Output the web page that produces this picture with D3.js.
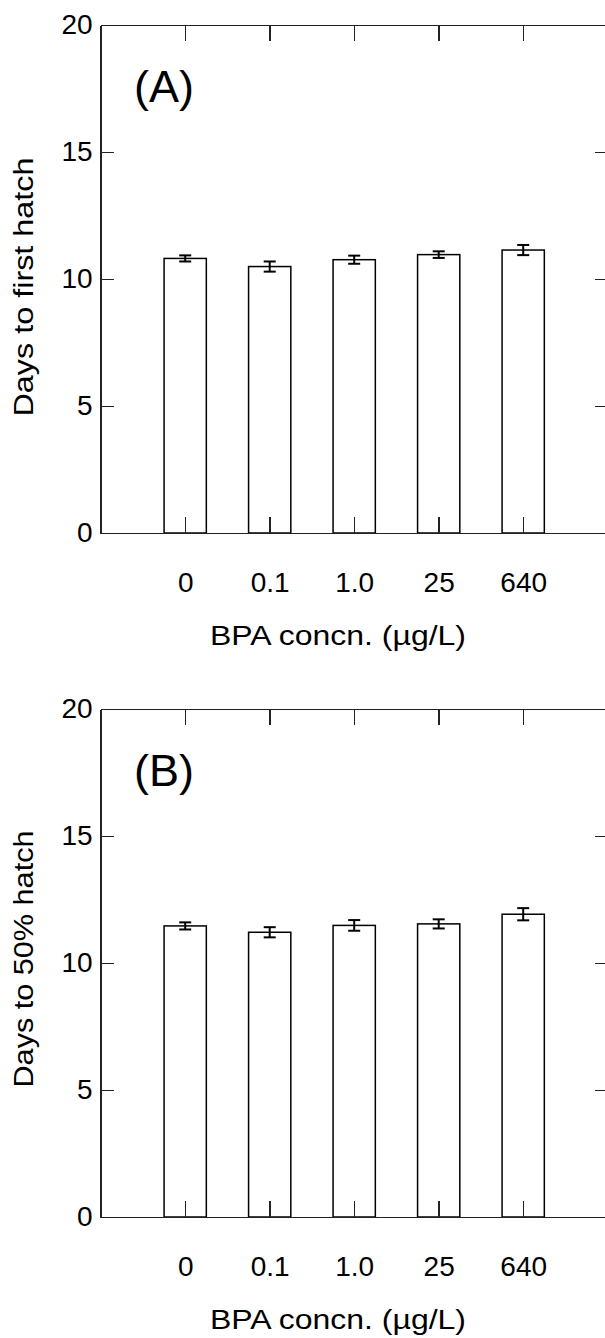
<!DOCTYPE html>
<meta charset="utf-8">
<style type="text/css">

body {
  margin: 0;
  background: #fff;
}

svg {
  font-family: Arial, "Liberation Sans", Helvetica, sans-serif;
}

.axis path,
.axis line {
  stroke: #222;
  stroke-width: 1.5px;
  shape-rendering: crispEdges;
}

.axis text {
  font-size: 28px;
  fill: #000;
}

.bar {
  fill: #fff;
  stroke: #000;
  stroke-width: 1.5px;
}

.err {
  stroke: #000;
  stroke-width: 2px;
}

</style>
<body>
<div id="chart"></div>

<script src="https://d3js.org/d3.v7.min.js"></script>
<script>
var width = 605,
    height = 1338;

// x positions: axis at 0, categories at 1..5, right border at 6
var categories = ['0', '0.1', '1.0', '25', '640'];
var catPos = [1, 2, 3, 4, 5];
var yTicks = [0, 5, 10, 15, 20];

// panel A: days to first hatch
var firstHatch = [10.81, 10.49, 10.76, 10.96, 11.14];
var firstHatchErr = [0.12, 0.20, 0.16, 0.13, 0.20];

// panel B: days to 50% hatch
var halfHatch = [11.46, 11.21, 11.48, 11.54, 11.92];
var halfHatchErr = [0.14, 0.20, 0.21, 0.18, 0.24];

var tags = ['(A)', '(B)'];
var yTitles = ['Days to first hatch', 'Days to 50% hatch'];
var xTitle = 'BPA concn. (\u00b5g/L)';

// layout of the two panels
var panels = [
  { values: firstHatch, errors: firstHatchErr, top: 25, titleMid: 262, titleLen: 259 },
  { values: halfHatch, errors: halfHatchErr, top: 709, titleMid: 250, titleLen: 257 }
];

var plotLeft = 100.7,
    plotRight = 607.7,
    plotH = 508;

var svg = d3.select('#chart').append('svg')
    .attr('width', width)
    .attr('height', height);

var x = d3.scaleLinear().domain([0, 6]).range([plotLeft, plotRight]);
var barW = x(0.5) - x(0);

panels.forEach(function(p, k) {
  var y = d3.scaleLinear().domain([0, 20]).range([p.top + plotH, p.top]);
  var g = svg.append('g');

  // bars
  g.selectAll('rect.bar')
      .data(p.values)
    .enter().append('rect')
      .attr('class', 'bar')
      .attr('x', function(d, i) { return x(catPos[i]) - barW / 2; })
      .attr('y', function(d) { return y(d); })
      .attr('width', barW)
      .attr('height', function(d) { return y(0) - y(d); });

  // error bars
  var capW = 6;
  var eb = g.selectAll('g.eb')
      .data(p.values)
    .enter().append('g');
  eb.append('line')
      .attr('class', 'err')
      .attr('x1', function(d, i) { return x(catPos[i]); })
      .attr('x2', function(d, i) { return x(catPos[i]); })
      .attr('y1', function(d, i) { return y(d + p.errors[i]); })
      .attr('y2', function(d, i) { return y(d - p.errors[i]); });
  [1, -1].forEach(function(s) {
    eb.append('line')
        .attr('class', 'err')
        .attr('x1', function(d, i) { return x(catPos[i]) - capW; })
        .attr('x2', function(d, i) { return x(catPos[i]) + capW; })
        .attr('y1', function(d, i) { return y(d + s * p.errors[i]); })
        .attr('y2', function(d, i) { return y(d + s * p.errors[i]); });
  });

  // axes, ticks pointing inward
  g.append('g')
      .attr('class', 'axis')
      .attr('transform', 'translate(' + plotLeft + ',0)')
      .call(d3.axisLeft(y).tickValues(yTicks).tickSizeInner(-13).tickSizeOuter(0).tickPadding(8));

  g.append('g')
      .attr('class', 'axis')
      .attr('transform', 'translate(' + plotRight + ',0)')
      .call(d3.axisRight(y).tickValues(yTicks.slice(1, 4)).tickSizeInner(-13).tickSizeOuter(0).tickFormat(''));

  g.append('g')
      .attr('class', 'axis')
      .attr('transform', 'translate(0,' + p.top + ')')
      .call(d3.axisTop(x).tickValues(catPos).tickSizeInner(-16).tickSizeOuter(0).tickFormat(''));

  g.append('g')
      .attr('class', 'axis')
      .attr('transform', 'translate(0,' + (p.top + plotH) + ')')
      .call(d3.axisBottom(x).tickValues(catPos).tickSizeInner(-16).tickSizeOuter(0).tickPadding(39)
        .tickFormat(function(d, i) { return categories[i]; }));

  // panel tag
  g.append('text')
      .attr('x', 134)
      .attr('y', p.top + 77)
      .style('font-size', '45px')
      .text(tags[k]);

  // axis titles
  g.append('text')
      .attr('transform', 'translate(33,' + (p.top + p.titleMid) + ') rotate(-90)')
      .attr('text-anchor', 'middle')
      .attr('textLength', p.titleLen)
      .attr('lengthAdjust', 'spacingAndGlyphs')
      .style('font-size', '27px')
      .text(yTitles[k]);

  g.append('text')
      .attr('x', 338)
      .attr('y', p.top + plotH + 112)
      .attr('text-anchor', 'middle')
      .attr('textLength', 256)
      .attr('lengthAdjust', 'spacingAndGlyphs')
      .style('font-size', '27px')
      .text(xTitle);
});
</script>
